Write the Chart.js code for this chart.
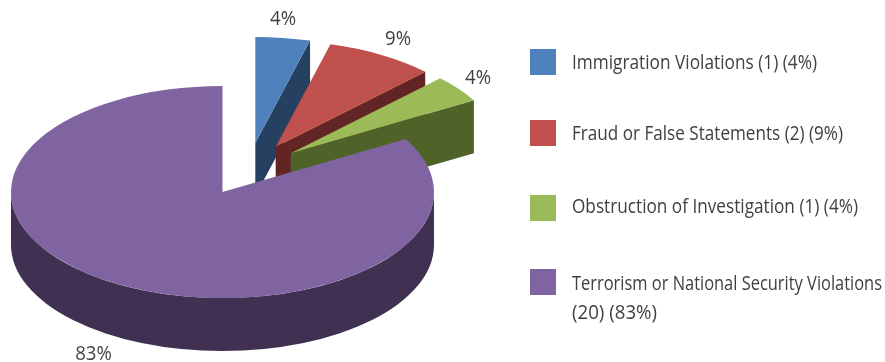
<!DOCTYPE html>
<html>
<head>
<meta charset="utf-8">
<style>html,body{margin:0;padding:0;background:#fff}canvas{display:block}</style>
<script src="https://cdn.jsdelivr.net/npm/chart.js@4"></script>
</head>
<body>
<canvas id="c" width="885" height="362"></canvas>
<script>
const categories = ['Immigration Violations', 'Fraud or False Statements', 'Obstruction of Investigation', 'Terrorism or National Security Violations'];
const counts = [1, 2, 1, 20];
const percentLabels = ['4%', '9%', '4%', '83%'];
const legendLines = [
  ['Immigration Violations (1) (4%)'],
  ['Fraud or False Statements (2) (9%)'],
  ['Obstruction of Investigation (1) (4%)'],
  ['Terrorism or National Security Violations', '(20) (83%)']
];
const topColors = ['#4F81BD', '#C0504D', '#9BBB59', '#8064A2'];
const wallColors = ['#254061', '#632523', '#4F6228', '#403152'];

// 3D look of the drawing
const stretchX = 211.5 / 106;
const depth = 53;
const explode = [[33.3, -49], [53.7, -45.3], [68.7, -38.7], [0.5, 0]];
const pctPos = [[283, 25], [398, 45], [478, 84], [93.5, 360]];
const legendBoxY = [49, 120, 195, 269];
const legendBaseY = [[69], [140], [213], [290, 319]];
const legendWidths = [[245], [271], [286], [310], [85]];
const FONT = '20px "Open Sans"';
const PCT_SQUEEZE = 0.93;
const TEXT_COLOR = '#404040';

function squeezedText(ctx, s, x, y, align, squeeze) {
  ctx.save();
  ctx.translate(x, y);
  ctx.scale(squeeze, 1);
  ctx.textAlign = align;
  ctx.textBaseline = 'alphabetic';
  ctx.fillText(s, 0, 0);
  ctx.restore();
}

const lineWidths = [[245], [271], [286], [310, 85]];

const pie3d = {
  id: 'pie3d',
  beforeDatasetsDraw(chart) {
    const ctx = chart.ctx;
    const arcs = chart.getDatasetMeta(0).data;
    arcs.forEach((arc, i) => {
      const px = arc.x + explode[i][0], py = arc.y + explode[i][1];
      const r = arc.outerRadius;
      const pt = a => [px + r * stretchX * Math.cos(a), py + r * Math.sin(a)];
      ctx.save();
      ctx.fillStyle = wallColors[i];
      if (i < 3) {
        const e = pt(arc.endAngle);
        ctx.beginPath();
        ctx.moveTo(px, py);
        ctx.lineTo(e[0], e[1]);
        ctx.lineTo(e[0], e[1] + depth);
        ctx.lineTo(px, py + depth);
        ctx.closePath();
        ctx.fill();
      } else {
        ctx.beginPath();
        ctx.ellipse(px, py, r * stretchX, r, 0, 0, Math.PI, false);
        ctx.ellipse(px, py + depth, r * stretchX, r, 0, Math.PI, 0, true);
        ctx.closePath();
        ctx.fill();
      }
      ctx.restore();
      ctx.save();
      ctx.translate(px, py);
      ctx.scale(stretchX, 1);
      ctx.translate(-arc.x, -arc.y);
      arc.draw(ctx);
      ctx.restore();
    });
    return false;
  },
  afterDraw(chart) {
    const ctx = chart.ctx;
    ctx.save();
    ctx.font = FONT;
    ctx.fillStyle = TEXT_COLOR;
    percentLabels.forEach((t, i) => squeezedText(ctx, t, pctPos[i][0], pctPos[i][1], 'center', PCT_SQUEEZE));
    legendLines.forEach((lines, i) => {
      ctx.fillStyle = topColors[i];
      ctx.fillRect(530, legendBoxY[i], 26, 26);
      ctx.fillStyle = TEXT_COLOR;
      lines.forEach((l, j) => {
        const squeeze = lineWidths[i][j] / ctx.measureText(l).width;
        squeezedText(ctx, l, 572, legendBaseY[i][j], 'left', squeeze);
      });
    });
    ctx.restore();
  }
};

new Chart(document.getElementById('c'), {
  type: 'pie',
  data: {
    labels: categories,
    datasets: [{ data: counts, backgroundColor: topColors, borderWidth: 0 }]
  },
  options: {
    responsive: false,
    animation: false,
    rotation: 0,
    layout: { padding: { left: 116, right: 557, top: 86, bottom: 64 } },
    plugins: { legend: { display: false }, tooltip: { enabled: false } }
  },
  plugins: [pie3d]
});
</script>
</body>
</html>
